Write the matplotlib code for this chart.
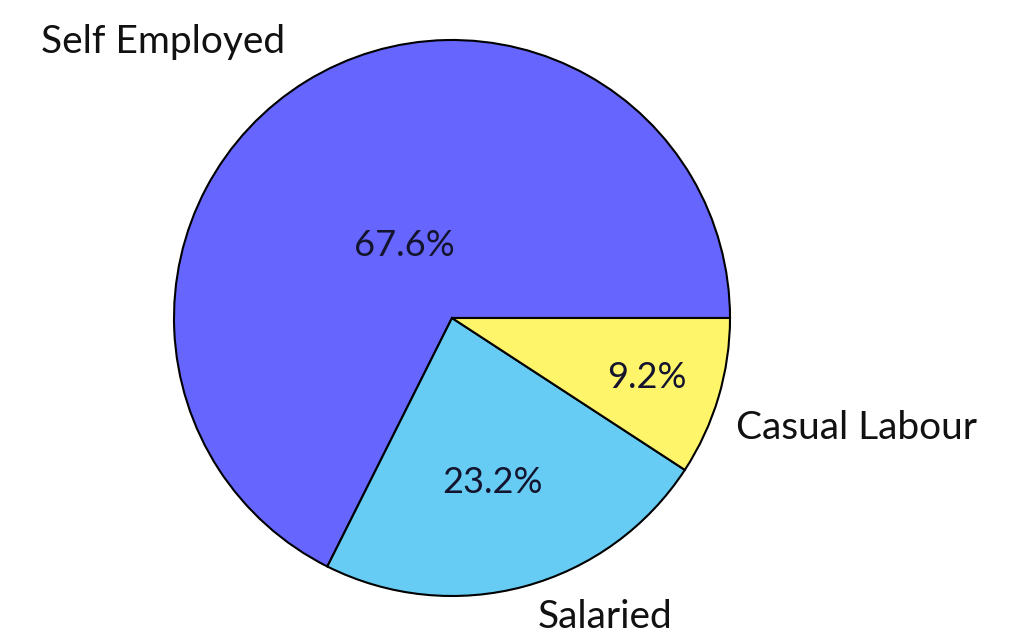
import matplotlib.pyplot as plt

labels = ['Self Employed', 'Salaried', 'Casual Labour']
shares = [67.6, 23.2, 9.2]
colors = ['#6666ff', '#66ccf3', '#fff56b']

# text placement (data units, pie radius = 1), tuned by eye
label_xy = [(-0.60, 0.993), (0.31, -1.076), (1.02, -0.396)]
pct_xy = [(-0.17, 0.26), (0.145, -0.59), (0.70, -0.215)]

plt.rcParams['font.family'] = ['Lato', 'DejaVu Sans']

fig = plt.figure(figsize=(10.24, 6.44), dpi=100)
ax = fig.add_axes([174 / 1024, 48 / 644, 556 / 1024, 556 / 644])

wedges, texts, autotexts = ax.pie(
    shares, labels=labels, colors=colors, startangle=0, counterclock=True,
    autopct='%1.1f%%', radius=1,
    wedgeprops=dict(edgecolor='black', linewidth=1.5),
    textprops=dict(fontsize=28, color='#111111'))

for t, (x, y) in zip(texts, label_xy):
    t.set_position((x, y))
    t.set_ha('right' if x < 0 else 'left')
    t.set_va('center')

for t, (x, y) in zip(autotexts, pct_xy):
    t.set_position((x, y))
    t.set_fontsize(26)
    t.set_color('#14142e')
    t.set_ha('center')
    t.set_va('center')

ax.set_xlim(-1, 1)
ax.set_ylim(-1, 1)
ax.set_aspect('equal')

fig.savefig('out.png', dpi=100)
